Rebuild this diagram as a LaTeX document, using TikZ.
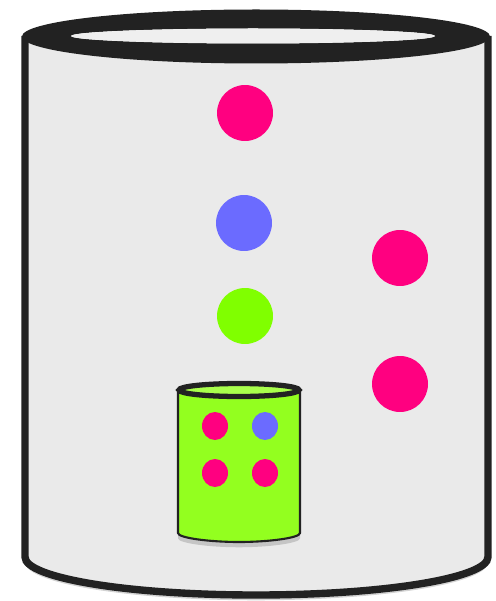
\documentclass[tikz,border=0pt]{standalone}
\usepackage{tikz}
\usetikzlibrary{shapes.geometric,shadows}
\definecolor{canline}{HTML}{222222}
\definecolor{canfill}{HTML}{EAEAEA}
\definecolor{canhole}{HTML}{EFEFEF}
\definecolor{ballpink}{HTML}{FF0080}
\definecolor{ballblue}{HTML}{6B6BFF}
\definecolor{ballgreen}{HTML}{80FF00}
\definecolor{cupfill}{HTML}{93FF1F}
\tikzset{
  ball/.style  ={circle, inner sep=0pt, minimum size=1.12cm},
  dot/.style   ={ellipse, inner sep=0pt, minimum width=0.52cm, minimum height=0.56cm},
  wall/.style  ={draw=canline, line width=4.2pt},
  soft/.style  ={drop shadow={opacity=0.35, shadow xshift=0pt, shadow yshift=-3pt}},
}

\begin{document}
\begin{tikzpicture}[x=0.02cm,y=-0.02cm]
  \useasboundingbox (0,0) rectangle (496,601);
  % big can
  \path[fill=canfill, soft] (25,36) -- (25,557)
        .. controls (25,578) and (128,595) .. (256,595)
        .. controls (384,595) and (488,578) .. (488,557) -- (488,36) -- cycle;
  \draw[wall] (25,36) -- (25,557)
        .. controls (25,578) and (128,595) .. (256,595)
        .. controls (384,595) and (488,578) .. (488,557) -- (488,36);
  \fill[canline, even odd rule] (256,36.5) ellipse [x radius=234, y radius=27]
        (253,36) ellipse [x radius=182, y radius=7.5];
  \fill[canhole] (253,36) ellipse [x radius=182, y radius=7.5];
  % balls falling in
  \node[ball, fill=ballpink]  (p1) at (245,113) {};
  \node[ball, fill=ballblue]  (b1) at (244,223) {};
  \node[ball, fill=ballgreen] (g1) at (245,316) {};
  \node[ball, fill=ballpink]  (p2) at (400,258) {};
  \node[ball, fill=ballpink]  (p3) at (400,384) {};
  % small cup
  \path[fill=cupfill, draw=canline, line width=1.2pt, soft] (178,390) -- (178,533)
        .. controls (178,538) and (210,542) .. (239,542)
        .. controls (268,542) and (300,538) .. (300,533) -- (300,390) -- cycle;
  \draw[canline, line width=3pt, fill=cupfill!80!white] (239,390) ellipse [x radius=60, y radius=6.5];
  \node[dot, fill=ballpink] (d1) at (215,426) {};
  \node[dot, fill=ballblue] (d2) at (265,426) {};
  \node[dot, fill=ballpink] (d3) at (215,473) {};
  \node[dot, fill=ballpink] (d4) at (265,473) {};
\end{tikzpicture}
\end{document}
